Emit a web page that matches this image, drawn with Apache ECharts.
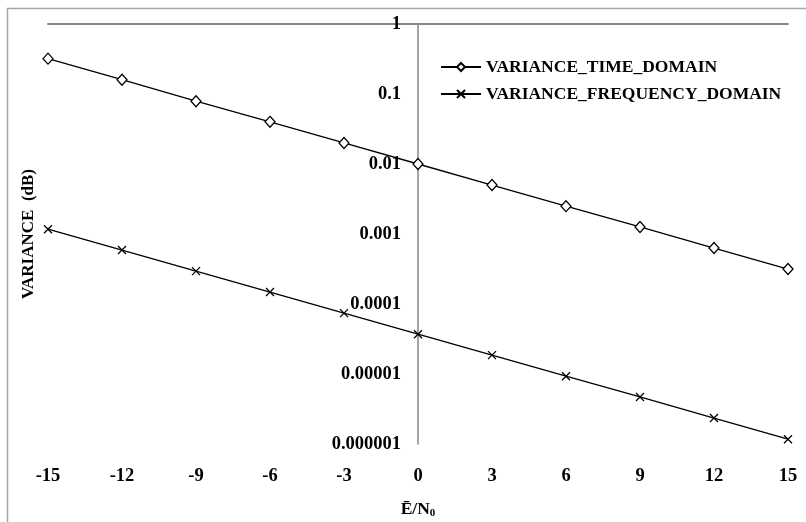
<!DOCTYPE html>
<html>
<head>
<meta charset="utf-8">
<script src="https://cdn.jsdelivr.net/npm/echarts@6/dist/echarts.min.js"></script>
<style>
html,body{margin:0;padding:0;background:#fff;}
#chart{width:806px;height:522px;}
</style>
</head>
<body>
<div id="chart"></div>
<script>
var xValues = [-15, -12, -9, -6, -3, 0, 3, 6, 9, 12, 15];
var timeDomain = [0.32, 0.16, 0.079, 0.04, 0.02, 0.01, 0.005, 0.0025, 0.00126, 0.00063, 0.000316];
var freqDomain = [0.00117, 0.00059, 0.000295, 0.000148, 0.000074, 0.000037, 0.0000186, 0.0000093, 0.0000047, 0.00000235, 0.00000117];
var yTickLabels = ['0.000001', '0.00001', '0.0001', '0.001', '0.01', '0.1', '1'];
var seriesNames = ['VARIANCE_TIME_DOMAIN', 'VARIANCE_FREQUENCY_DOMAIN'];

var FONT = '"Liberation Serif", "Times New Roman", serif';
var crossPath = 'path://M0,0L10,10M10,0L0,10';

function pairs(ys) { return xValues.map(function (x, i) { return [x, ys[i]]; }); }

var chart = echarts.init(document.getElementById('chart'), null, {renderer: 'canvas'});
chart.setOption({
  animation: false,
  backgroundColor: '#fff',
  graphic: [{
    type: 'rect', left: 5, top: 6, silent: true,
    shape: {x: 0, y: 0, width: 820, height: 540},
    style: {fill: 'none', stroke: '#a6a6a6', lineWidth: 1.5}
  }],
  grid: {left: 48, right: 18, top: 24, bottom: 78, containLabel: false, outerBoundsMode: 'none'},
  legend: {
    orient: 'vertical', left: 435, top: 53,
    itemWidth: 40, itemHeight: 10, itemGap: 9,
    textStyle: {fontFamily: FONT, fontWeight: 'bold', fontSize: 17.5, color: '#000'},
    data: seriesNames
  },
  xAxis: [{
    type: 'value', min: -15, max: 15, interval: 3, position: 'bottom',
    axisLine: {show: false, onZero: false}, axisTick: {show: false}, splitLine: {show: false},
    axisLabel: {margin: 23, fontFamily: FONT, fontWeight: 'bold', fontSize: 18.5, color: '#000'},
    name: '{a|Ē/N}{s|0}', nameLocation: 'middle', nameGap: 56,
    nameTextStyle: {
      rich: {
        a: {fontFamily: FONT, fontWeight: 'bold', fontSize: 17.5, color: '#000'},
        s: {fontFamily: FONT, fontWeight: 'bold', fontSize: 11, color: '#000', padding: [8, 0, 0, 0]}
      }
    }
  }, {
    type: 'value', min: -15, max: 15, interval: 3, position: 'top',
    axisLine: {show: true, onZero: false, lineStyle: {color: '#868686', width: 2}},
    axisTick: {show: false}, axisLabel: {show: false}, splitLine: {show: false}
  }],
  yAxis: {
    type: 'log', logBase: 10, min: 0.000001, max: 1, position: 'left', offset: -370,
    axisLine: {show: true, onZero: false, lineStyle: {color: '#868686', width: 1.5}},
    axisTick: {show: false}, splitLine: {show: false}, minorTick: {show: false},
    axisLabel: {
      margin: 17, fontFamily: FONT, fontWeight: 'bold', fontSize: 18.5, color: '#000',
      formatter: function (v) {
        var idx = Math.round(Math.log10(v)) + 6;
        return yTickLabels[idx] !== undefined ? yTickLabels[idx] : '';
      }
    },
    name: 'VARIANCE  (dB)', nameLocation: 'middle', nameGap: 381, nameRotate: 90,
    nameTextStyle: {fontFamily: FONT, fontWeight: 'bold', fontSize: 17, color: '#000'}
  },
  series: [{
    name: seriesNames[0], type: 'line', xAxisIndex: 0, data: pairs(timeDomain),
    symbol: 'diamond', symbolSize: [10, 11], showAllSymbol: true,
    lineStyle: {color: '#000', width: 1.3},
    itemStyle: {color: '#fff', borderColor: '#000', borderWidth: 1.3}
  }, {
    name: seriesNames[1], type: 'line', xAxisIndex: 0, data: pairs(freqDomain),
    symbol: crossPath, symbolSize: 8, showAllSymbol: true,
    lineStyle: {color: '#000', width: 1.3},
    itemStyle: {color: '#000', borderColor: '#000', borderWidth: 1.3}
  }]
});
</script>
</body>
</html>
